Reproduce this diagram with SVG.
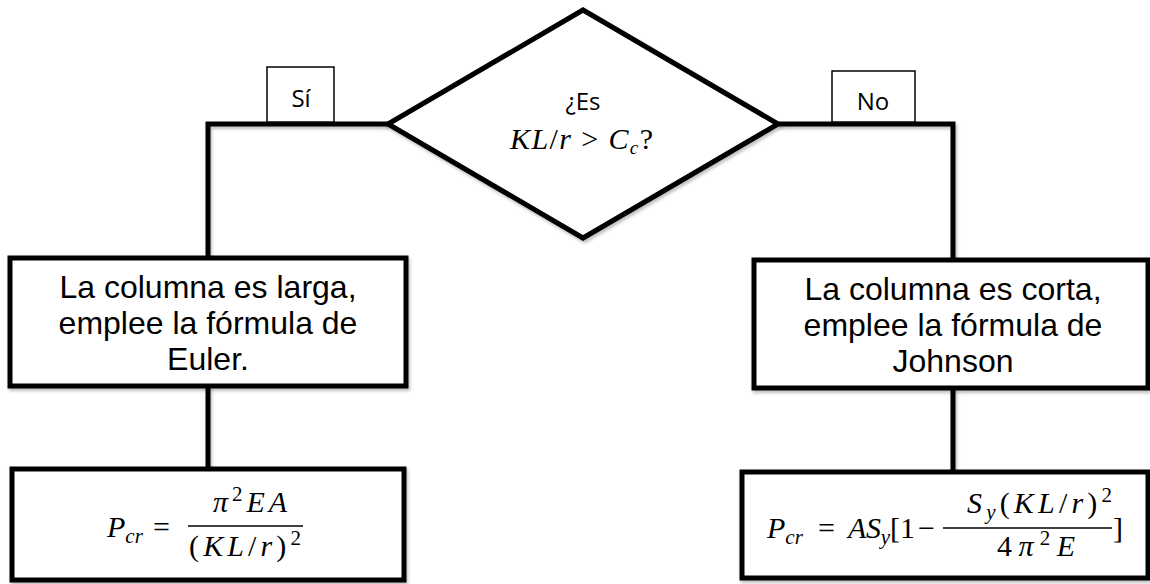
<svg xmlns="http://www.w3.org/2000/svg" width="1150" height="584" viewBox="0 0 1150 584">
<defs>
<filter id="sh" x="-5%" y="-5%" width="110%" height="120%">
<feDropShadow dx="1.5" dy="2.5" stdDeviation="1.5" flood-color="#000" flood-opacity="0.25"/>
</filter>
<style>
.thick{fill:#fff;stroke:#000;stroke-width:5;stroke-linejoin:miter}
.conn{fill:none;stroke:#000;stroke-width:5;stroke-linejoin:miter}
.thin{fill:#fff;stroke:#000;stroke-width:1.5}
.lbl{font-family:"Open Sans","Liberation Sans",sans-serif;font-size:24px;fill:#000}
.txt{font-family:"Liberation Sans",Arial,sans-serif;font-size:32px;fill:#000;text-anchor:middle}
.m{font-family:"Liberation Serif","DejaVu Serif",serif;font-style:italic;font-size:30px;fill:#000}
.u{font-style:normal}
.sub{font-size:21px}
.bar{stroke:#000;stroke-width:1.6}
</style>
</defs>
<rect width="1150" height="584" fill="#fff"/>
<g id="connectors" filter="url(#sh)">
<polyline class="conn" points="388,124 208,124 208,258"/>
<line class="conn" x1="208" y1="386" x2="208" y2="469"/>
<polyline class="conn" points="778,124 953,124 953,260"/>
<line class="conn" x1="953" y1="388" x2="953" y2="472"/>
</g>
<g id="label-si">
<rect class="thin" x="267" y="67" width="67" height="55"/>
<text class="lbl" x="301" y="107" text-anchor="middle">Sí</text>
</g>
<g id="label-no">
<rect class="thin" x="832" y="71" width="83" height="51"/>
<text class="lbl" x="873" y="110" text-anchor="middle">No</text>
</g>
<g id="decision">
<polygon class="thick" points="583,10 778,124 583,238 388,124" filter="url(#sh)"/>
<text class="lbl" x="583" y="110" text-anchor="middle">¿Es</text>
<text class="m" x="510" y="149" font-size="27" textLength="143" lengthAdjust="spacing">KL<tspan class="u">/</tspan>r <tspan class="u">&gt;</tspan> C<tspan font-size="19" dy="5">c</tspan><tspan class="u" dy="-5">?</tspan></text>
</g>
<g id="euler-box">
<rect class="thick" x="10" y="258" width="396" height="128" filter="url(#sh)"/>
<text class="txt" x="208" y="298">La columna es larga,</text>
<text class="txt" x="208" y="334">emplee la fórmula de</text>
<text class="txt" x="208" y="370">Euler.</text>
</g>
<g id="johnson-box">
<rect class="thick" x="754" y="260" width="394" height="128" filter="url(#sh)"/>
<text class="txt" x="953" y="300">La columna es corta,</text>
<text class="txt" x="953" y="336">emplee la fórmula de</text>
<text class="txt" x="953" y="372">Johnson</text>
</g>
<g id="euler-formula">
<rect class="thick" x="12" y="469" width="392" height="111" filter="url(#sh)"/>
<text class="m" x="107" y="537">P<tspan class="sub" dy="6">cr</tspan></text>
<text class="m u" x="153" y="537">=</text>
<text class="m" x="213" y="512" textLength="74" lengthAdjust="spacing">π<tspan class="sub u" dy="-11">2</tspan><tspan dy="11">EA</tspan></text>
<line class="bar" x1="188" y1="526" x2="303" y2="526"/>
<text class="m" x="189" y="556" textLength="112" lengthAdjust="spacing"><tspan class="u">(</tspan>KL<tspan class="u">/</tspan>r<tspan class="u">)</tspan><tspan class="sub u" dy="-11">2</tspan></text>
</g>
<g id="johnson-formula">
<rect class="thick" x="742" y="472" width="406" height="106" filter="url(#sh)"/>
<text class="m" x="767" y="538">P<tspan class="sub" dy="6">cr</tspan></text>
<text class="m u" x="818" y="538">=</text>
<text class="m" x="848" y="538" textLength="42" lengthAdjust="spacing">AS<tspan class="sub" dy="6">y</tspan></text>
<text class="m u" x="890" y="538">[1</text>
<text class="m u" x="918" y="538">−</text>
<text class="m" x="967" y="513" textLength="145" lengthAdjust="spacing">S<tspan class="sub" dy="6">y</tspan><tspan class="u" dy="-6">(</tspan>KL<tspan class="u">/</tspan>r<tspan class="u">)</tspan><tspan class="sub u" dy="-11">2</tspan></text>
<line class="bar" x1="943" y1="528" x2="1112" y2="528"/>
<text class="m" x="997" y="556" textLength="78" lengthAdjust="spacing"><tspan class="u">4</tspan>π<tspan class="sub u" dy="-11">2</tspan><tspan dy="11">E</tspan></text>
<text class="m u" x="1113" y="538">]</text>
</g>
</svg>
